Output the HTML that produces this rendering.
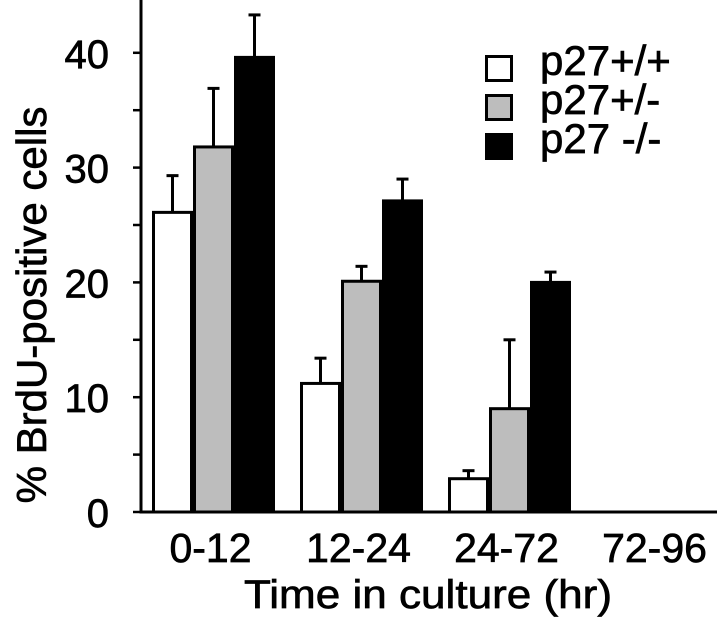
<!DOCTYPE html>
<html><head><meta charset="utf-8"><style>
html,body{margin:0;padding:0;background:#fff;}
svg{display:block;font-family:"Liberation Sans",Arial,sans-serif;}
text{stroke:#000;stroke-width:0.7px;}
</style></head><body>
<svg id="chart" width="720" height="632" viewBox="0 0 720 632">
<g id="axes"></g>
<g id="bars"></g>
<g id="legend"></g>
<text x="428" y="608" font-size="40" text-anchor="middle" textLength="368" lengthAdjust="spacingAndGlyphs">Time in culture (hr)</text>
<text transform="translate(46,305) rotate(-90)" font-size="42" text-anchor="middle">% BrdU-positive cells</text>
</svg>
<script>
const categories = ["0-12","12-24","24-72","72-96"];
const seriesNames = ["p27+/+","p27+/-","p27 -/-"];
const wt = [26.1, 11.2, 2.9, 0];
const het = [31.8, 20.1, 9.0, 0];
const ko = [39.6, 27.1, 20.0, 0];
const wtErr = [3.2, 2.2, 0.7, 0];
const hetErr = [5.1, 1.3, 6.0, 0];
const koErr = [3.7, 1.9, 0.9, 0];
const yTicks = [0,10,20,30,40];
const yMinorTicks = [5,15,25,35];

const NS="http://www.w3.org/2000/svg";
const fills=["#ffffff","#bdbdbd","#000000"];
const y0=512, pxPerUnit=11.48, axisX=141, barW=41, groupStart=152, groupStep=148;
function yScale(v){return y0 - v*pxPerUnit;}
function xScale(ci,si){return groupStart + ci*groupStep + si*barW;}
function mk(tag,attrs,parent){const e=document.createElementNS(NS,tag);for(const k in attrs)e.setAttribute(k,attrs[k]);parent.appendChild(e);return e;}

const axes=document.getElementById('axes');
let l=mk('line',{x1:axisX,y1:0,x2:axisX,y2:y0+1.5,stroke:'#000','stroke-width':3},axes);


l=mk('line',{x1:axisX-1.5,y1:y0,x2:717,y2:y0,stroke:'#000','stroke-width':3},axes);


yTicks.concat(yMinorTicks).forEach(v=>{
  const t=mk('line',{x1:axisX-8,y1:yScale(v),x2:axisX,y2:yScale(v),stroke:'#000','stroke-width':2.5},axes);
  
  
});
yTicks.forEach(v=>{
  const t=mk('text',{x:109,y:yScale(v)+15,'font-size':40,'text-anchor':'end'},axes);
  t.textContent=v;
  
  
});
categories.forEach((c,ci)=>{
  const t=mk('text',{x:xScale(ci,1.5)-3,y:562,'font-size':41,'text-anchor':'middle'},axes);
  t.textContent=c;
  
  
});

const bars=document.getElementById('bars');
const vals=[wt,het,ko], errs=[wtErr,hetErr,koErr];
categories.forEach((c,ci)=>{
  vals.forEach((arr,si)=>{
    const v=arr[ci]; if(v<=0) return;
    const x=xScale(ci,si), top=yScale(v), cx=x+barW/2;
    const e=errs[si][ci];
    const el=mk('line',{x1:cx,y1:yScale(v+e),x2:cx,y2:top,stroke:'#000','stroke-width':3},bars);
    
    
    const cap=mk('line',{x1:cx-6,y1:yScale(v+e),x2:cx+6,y2:yScale(v+e),stroke:'#000','stroke-width':3},bars);
    
    
    const r=mk('rect',{x:x+1.5,y:top,width:barW-3,height:y0-top,fill:fills[si],stroke:'#000','stroke-width':3},bars);
    
    
  });
});

const lg=document.getElementById('legend');
seriesNames.forEach((n,i)=>{
  const by=55+i*39;
  const r=mk('rect',{x:486.5,y:by+1.5,width:25,height:24,fill:fills[i],stroke:'#000','stroke-width':3},lg);
  
  
  const t=mk('text',{x:540,y:by+20,'font-size':42},lg);
  t.textContent=n;
  
  
});
</script>
</body></html>
